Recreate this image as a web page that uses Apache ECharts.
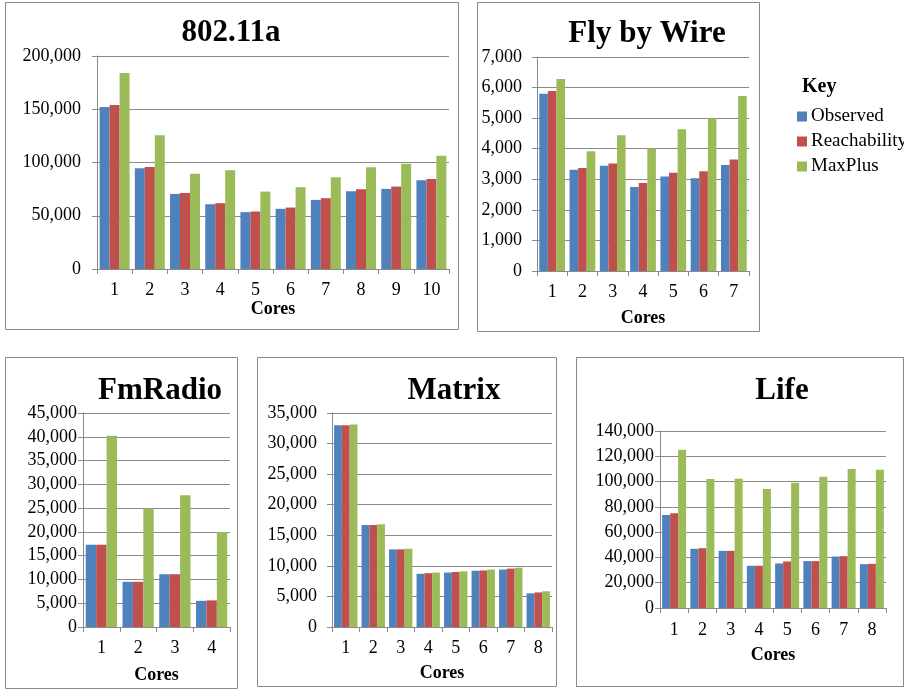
<!DOCTYPE html>
<html>
<head>
<meta charset="utf-8">
<script src="https://cdn.jsdelivr.net/npm/echarts@6/dist/echarts.min.js"></script>
<style>
  html, body { margin: 0; padding: 0; background: #fff; }
  #chart { width: 904px; height: 692px; }
</style>
</head>
<body>
<div id="chart"></div>
<script>
// ---- Data ----
const seriesNames = ['Observed', 'Reachability', 'MaxPlus'];

const titles = ['802.11a', 'Fly by Wire', 'FmRadio', 'Matrix', 'Life'];
const axisName = 'Cores';
const legendTitle = 'Key';

const cores802 = ['1', '2', '3', '4', '5', '6', '7', '8', '9', '10'];
const observed802 = [152000, 94500, 70500, 60800, 53400, 56500, 64900, 73000, 75200, 83300];
const reach802 = [154100, 95800, 71400, 61800, 54000, 57700, 66500, 74900, 77400, 84600];
const maxplus802 = [184100, 125700, 89500, 92700, 72700, 76800, 86100, 95500, 98900, 106400];

const coresFbw = ['1', '2', '3', '4', '5', '6', '7'];
const observedFbw = [5800, 3315, 3445, 2750, 3095, 3030, 3465];
const reachFbw = [5890, 3370, 3520, 2880, 3215, 3260, 3650];
const maxplusFbw = [6280, 3915, 4440, 4010, 4635, 4995, 5725];

const coresFm = ['1', '2', '3', '4'];
const observedFm = [17300, 9500, 11100, 5500];
const reachFm = [17300, 9500, 11100, 5600];
const maxplusFm = [40200, 24900, 27700, 20000];

const coresMx = ['1', '2', '3', '4', '5', '6', '7', '8'];
const observedMx = [33000, 16700, 12700, 8700, 8900, 9200, 9400, 5500];
const reachMx = [33000, 16700, 12700, 8800, 9000, 9250, 9550, 5650];
const maxplusMx = [33100, 16800, 12800, 8900, 9100, 9400, 9700, 5850];

const coresLife = ['1', '2', '3', '4', '5', '6', '7', '8'];
const observedLife = [73600, 46800, 45200, 33400, 35200, 37100, 40700, 34700];
const reachLife = [74900, 47300, 45200, 33400, 36800, 37100, 41000, 34950];
const maxplusLife = [125100, 102000, 102200, 94100, 99100, 103800, 109900, 109400];

// y axis ranges (tick labels derived from these)
const yMax = [200000, 7000, 45000, 35000, 140000];
const yStep = [50000, 1000, 5000, 5000, 20000];

// ---- Layout & style ----
const FONT = "'Liberation Serif', 'Times New Roman', serif";
const colors = ['#4F81BD', '#C0504D', '#9BBB59'];
const gray = '#8a8a8a';

const panels = [
  { cats: cores802, data: [observed802, reach802, maxplus802],
    grid: { left: 97, top: 56, width: 352, height: 213 },
    frame: [5, 2, 453, 327], title: [231, 33], yMargin: 16, nameGap: 30, labelMargin: 12 },
  { cats: coresFbw, data: [observedFbw, reachFbw, maxplusFbw],
    grid: { left: 537, top: 57, width: 212, height: 214 },
    frame: [477, 2, 282, 329], title: [647, 34], yMargin: 15, nameGap: 38, labelMargin: 12 },
  { cats: coresFm, data: [observedFm, reachFm, maxplusFm],
    grid: { left: 83, top: 413, width: 147, height: 214 },
    frame: [5, 357, 232, 331], title: [160, 391], yMargin: 6, nameGap: 39, labelMargin: 12 },
  { cats: coresMx, data: [observedMx, reachMx, maxplusMx],
    grid: { left: 332, top: 413, width: 220, height: 214 },
    frame: [257, 357, 299, 329], title: [454, 391], yMargin: 15, nameGap: 37, labelMargin: 12 },
  { cats: coresLife, data: [observedLife, reachLife, maxplusLife],
    grid: { left: 660, top: 431, width: 226, height: 177 },
    frame: [576, 357, 327, 329], title: [782, 391], yMargin: 6, nameGap: 38, labelMargin: 13 }
];

const fmt = v => v.toLocaleString('en-US');

const option = {
  backgroundColor: '#fff',
  animation: false,
  textStyle: { fontFamily: FONT },
  title: [],
  grid: [],
  xAxis: [],
  yAxis: [],
  series: [],
  graphic: [],
  legend: {
    data: seriesNames,
    orient: 'vertical',
    left: 797,
    top: 107,
    padding: 0,
    itemWidth: 10,
    itemHeight: 10,
    itemGap: 6,
    icon: 'rect',
    textStyle: { fontFamily: FONT, fontSize: 19, color: '#000', padding: [0, 0, 0, -1] }
  }
};

option.title.push({
  text: legendTitle, left: 802, top: 87, padding: 0,
  textAlign: 'left', textVerticalAlign: 'middle',
  textStyle: { fontFamily: FONT, fontSize: 20, fontWeight: 'bold', color: '#000' }
});

panels.forEach((p, i) => {
  option.graphic.push({
    type: 'rect', silent: true, z: -1,
    shape: { x: p.frame[0] + 0.5, y: p.frame[1] + 0.5, width: p.frame[2], height: p.frame[3] },
    style: { fill: 'none', stroke: gray, lineWidth: 1 }
  });
  option.title.push({
    text: titles[i], left: p.title[0], top: p.title[1], padding: 0,
    textAlign: 'center', textVerticalAlign: 'middle',
    textStyle: { fontFamily: FONT, fontSize: 31, fontWeight: 'bold', color: '#000' }
  });
  option.grid.push(Object.assign({ containLabel: false }, p.grid));
  option.xAxis.push({
    type: 'category', gridIndex: i, data: p.cats,
    name: axisName, nameLocation: 'middle', nameGap: p.nameGap,
    nameTextStyle: { fontFamily: FONT, fontSize: 18, fontWeight: 'bold', color: '#000' },
    axisLine: { show: true, lineStyle: { color: gray, width: 1 } },
    axisTick: { show: true, length: 5, lineStyle: { color: gray } },
    axisLabel: { fontFamily: FONT, fontSize: 18, color: '#000', margin: p.labelMargin },
    splitLine: { show: false }
  });
  option.yAxis.push({
    type: 'value', gridIndex: i, min: 0, max: yMax[i], interval: yStep[i],
    axisLine: { show: true, lineStyle: { color: gray, width: 1 } },
    axisTick: { show: true, length: 5, lineStyle: { color: gray } },
    axisLabel: { fontFamily: FONT, fontSize: 18, color: '#000', margin: p.yMargin, formatter: fmt },
    splitLine: { show: true, lineStyle: { color: gray, width: 1 } }
  });
  p.data.forEach((vals, k) => {
    option.series.push({
      type: 'bar', name: seriesNames[k], xAxisIndex: i, yAxisIndex: i,
      data: vals, barGap: '0%', barCategoryGap: '15%',
      itemStyle: { color: colors[k] },
      emphasis: { disabled: true }
    });
  });
});

const chart = echarts.init(document.getElementById('chart'), null, { renderer: 'canvas' });
chart.setOption(option);
</script>
</body>
</html>
